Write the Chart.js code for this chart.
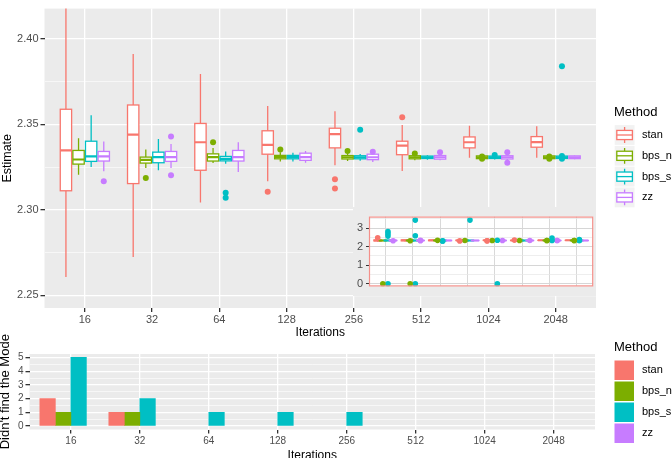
<!DOCTYPE html>
<html><head><meta charset="utf-8">
<script src="https://cdn.jsdelivr.net/npm/chart.js@4.4.0/dist/chart.umd.min.js"></script>
<style>
html,body{margin:0;padding:0;background:#fff;overflow:hidden;width:672px;height:458px;}
canvas{position:absolute;display:block;}
#top{left:0;top:0;}
#bottom{left:0;top:325px;}
#inset{left:353px;top:207px;background:#EBEBEB;}
</style></head><body>
<canvas id="top" width="672" height="345"></canvas>
<canvas id="bottom" width="672" height="140"></canvas>
<canvas id="inset" width="243" height="89"></canvas>
<script>
// ---------------- data ----------------
const iterations = ['16','32','64','128','256','512','1024','2048'];
const methods = ['stan','bps_n','bps_s','zz'];

// box stats per iteration: [lower whisker, Q1, median, Q3, upper whisker]
const stanBoxes = [
  [2.2608, 2.3112, 2.3348, 2.3589, 2.4300],
  [2.2724, 2.3154, 2.3440, 2.3614, 2.3913],
  [2.3044, 2.3232, 2.3396, 2.3506, 2.3795],
  [2.3168, 2.3326, 2.3380, 2.3463, 2.3608],
  [2.3262, 2.3363, 2.3443, 2.3478, 2.3577],
  [2.3227, 2.3323, 2.3376, 2.3402, 2.3497],
  [2.3305, 2.3363, 2.3396, 2.3427, 2.3492],
  [2.3305, 2.3367, 2.3397, 2.3429, 2.3489]
];
const bpsNBoxes = [
  [2.3206, 2.3268, 2.3295, 2.3348, 2.3420],
  [2.3245, 2.3274, 2.3293, 2.3309, 2.3353],
  [2.3274, 2.3286, 2.3309, 2.3328, 2.3363],
  [2.3284, 2.3299, 2.3309, 2.3319, 2.3338],
  [2.3286, 2.3298, 2.3308, 2.3318, 2.3330],
  [2.3290, 2.3299, 2.3308, 2.3317, 2.3326],
  [2.3294, 2.3300, 2.3308, 2.3316, 2.3320],
  [2.3295, 2.3300, 2.3308, 2.3316, 2.3320]
];
const bpsSBoxes = [
  [2.3251, 2.3284, 2.3313, 2.3402, 2.3554],
  [2.3232, 2.3276, 2.3309, 2.3338, 2.3415],
  [2.3270, 2.3287, 2.3299, 2.3313, 2.3342],
  [2.3284, 2.3299, 2.3309, 2.3319, 2.3334],
  [2.3288, 2.3299, 2.3308, 2.3317, 2.3327],
  [2.3294, 2.3301, 2.3308, 2.3315, 2.3320],
  [2.3295, 2.3301, 2.3308, 2.3315, 2.3320],
  [2.3295, 2.3301, 2.3308, 2.3315, 2.3320]
];
const zzBoxes = [
  [2.3226, 2.3286, 2.3313, 2.3342, 2.3400],
  [2.3245, 2.3284, 2.3309, 2.3342, 2.3386],
  [2.3222, 2.3286, 2.3309, 2.3348, 2.3396],
  [2.3276, 2.3290, 2.3309, 2.3332, 2.3344],
  [2.3280, 2.3294, 2.3308, 2.3326, 2.3338],
  [2.3290, 2.3297, 2.3308, 2.3318, 2.3324],
  [2.3292, 2.3298, 2.3308, 2.3317, 2.3322],
  [2.3296, 2.3300, 2.3308, 2.3316, 2.3318]
];

// outlying estimates: [iterations, estimate]
const stanOutliers = [['16',2.48],['128',2.3106],['256',2.3180],['256',2.3125],['512',2.3542]];
const bpsNOutliers = [['16',0],['32',0],['32',2.3187],['64',2.3396],['128',2.3353],['256',2.3344],
  ['512',2.3330],['1024',2.3300],['1024',2.3312],['2048',2.3300],['2048',2.3312]];
const bpsSOutliers = [['16',0],['16',2.57],['16',2.70],['16',2.81],['32',0],['32',2.59],['32',3.43],
  ['64',2.3100],['64',2.3071],['128',3.43],['256',0],['256',2.3469],['1024',2.3322],['1024',2.47],
  ['2048',2.3840],['2048',2.3300],['2048',2.3315]];
const zzOutliers = [['16',2.3168],['32',2.3430],['32',2.3203],['256',2.3340],['512',2.3338],
  ['1024',2.3338],['1024',2.3276]];

// number of runs that didn't find the mode
const stanMissed = [2,1,0,0,0,0,0,0];
const bpsNMissed = [1,1,0,0,0,0,0,0];
const bpsSMissed = [5,2,1,1,1,0,0,0];
const zzMissed   = [0,0,0,0,0,0,0,0];

const estimateTicks = [2.25, 2.275, 2.30, 2.325, 2.35, 2.375, 2.40];
const insetTicks = [0, 0.5, 1, 1.5, 2, 2.5, 3, 3.5];
const missedTicks = [0, 0.5, 1, 1.5, 2, 2.5, 3, 3.5, 4, 4.5, 5];

// ---------------- styling ----------------
const COLORS = ['#F8766D','#7CAE00','#00BFC4','#C77CFF'];
const BOX_DODGE = [-0.28125, -0.09375, 0.09375, 0.28125];
const BAR_DODGE = [-0.3375, -0.1125, 0.1125, 0.3375];
const FONT = '"Liberation Sans", Arial, Helvetica, sans-serif';
Chart.defaults.font.family = FONT;
Chart.defaults.color = '#4D4D4D';

const boxSets = [stanBoxes, bpsNBoxes, bpsSBoxes, zzBoxes];
const outlierSets = [stanOutliers, bpsNOutliers, bpsSOutliers, zzOutliers];
const missedSets = [stanMissed, bpsNMissed, bpsSMissed, zzMissed];

const near = (v, step) => Math.abs(v / step - Math.round(v / step)) < 1e-6;
const tickVal = c => (c && c.tick) ? c.tick.value : 0;
const catTicks = s => { s.ticks = iterations.map((_, i) => ({value: i + 1})); };

const panelBg = {
  id: 'panelBg',
  beforeDraw(chart, args, o) {
    const a = chart.chartArea, c = chart.ctx;
    c.save(); c.fillStyle = o.color;
    c.fillRect(a.left, a.top, a.right - a.left, a.bottom - a.top);
    c.restore();
  }
};

const boxPlot = {
  id: 'boxPlot',
  beforeDatasetsDraw(chart, args, o) {
    const {ctx, chartArea: a} = chart;
    const x = chart.scales.x, y = chart.scales.y;
    ctx.save();
    ctx.beginPath(); ctx.rect(a.left, a.top, a.right - a.left, a.bottom - a.top); ctx.clip();
    const hw = Math.abs(x.getPixelForValue(1 + o.width / 2) - x.getPixelForValue(1));
    boxSets.forEach((set, m) => {
      ctx.strokeStyle = COLORS[m];
      set.forEach((b, i) => {
        const cx = x.getPixelForValue(i + 1 + BOX_DODGE[m]);
        const [lo, q1, md, q3, hi] = b.map(v => y.getPixelForValue(v));
        ctx.lineWidth = o.line;
        ctx.beginPath();
        ctx.moveTo(cx, hi); ctx.lineTo(cx, q3);
        ctx.moveTo(cx, q1); ctx.lineTo(cx, lo);
        ctx.stroke();
        ctx.fillStyle = '#FFFFFF';
        ctx.fillRect(cx - hw, q3, 2 * hw, q1 - q3);
        ctx.strokeRect(cx - hw, q3, 2 * hw, q1 - q3);
        ctx.lineWidth = o.median;
        ctx.beginPath(); ctx.moveTo(cx - hw, md); ctx.lineTo(cx + hw, md); ctx.stroke();
      });
    });
    ctx.restore();
  }
};

const insetFrame = {
  id: 'insetFrame',
  afterDraw(chart, args, o) {
    const a = chart.chartArea, c = chart.ctx;
    c.save(); c.strokeStyle = o.color; c.lineWidth = 1.2;
    c.strokeRect(a.left + 0.5, a.top + 0.5, a.right - a.left - 1, a.bottom - a.top - 1);
    c.restore();
  }
};

const topLegend = {
  id: 'topLegend',
  afterDraw(chart) {
    const c = chart.ctx;
    c.save();
    c.textBaseline = 'middle'; c.textAlign = 'left';
    c.fillStyle = '#000'; c.font = '13px ' + FONT;
    c.fillText('Method', 614, 112);
    const size = 20.8, x0 = 614.2;
    methods.forEach((m, k) => {
      const cy = 135 + k * size;
      c.fillStyle = '#F2F2F2';
      c.fillRect(x0 + 0.5, cy - size / 2 + 0.5, size - 1, size - 1);
      c.strokeStyle = COLORS[k]; c.lineWidth = 1.3;
      const bx = x0 + size * 0.125, bw = size * 0.75, bt = cy - size * 0.22, bh = size * 0.44;
      c.beginPath();
      c.moveTo(x0 + size / 2, cy - size * 0.38); c.lineTo(x0 + size / 2, bt);
      c.moveTo(x0 + size / 2, bt + bh); c.lineTo(x0 + size / 2, cy + size * 0.38);
      c.stroke();
      c.fillStyle = '#FFFFFF'; c.fillRect(bx, bt, bw, bh); c.strokeRect(bx, bt, bw, bh);
      c.beginPath(); c.moveTo(bx, cy); c.lineTo(bx + bw, cy); c.stroke();
      c.fillStyle = '#000'; c.font = '11px ' + FONT;
      c.fillText(m, 642, cy);
    });
    c.restore();
  }
};

const bottomLegend = {
  id: 'bottomLegend',
  afterDraw(chart) {
    const c = chart.ctx;
    c.save();
    c.textBaseline = 'middle'; c.textAlign = 'left';
    c.fillStyle = '#000'; c.font = '13px ' + FONT;
    c.fillText('Method', 614, 22);
    methods.forEach((m, k) => {
      const top = 35.5 + k * 21;
      c.fillStyle = COLORS[k];
      c.fillRect(614.5, top, 19.5, 19.5);
      c.fillStyle = '#000'; c.font = '11px ' + FONT;
      c.fillText(m, 642, top + 9.75);
    });
    c.restore();
  }
};

const outlierDatasets = (r) => methods.map((m, k) => ({
  label: m,
  data: outlierSets[k].map(([it, v]) => ({x: iterations.indexOf(it) + 1 + BOX_DODGE[k], y: v})),
  backgroundColor: COLORS[k], borderWidth: 0, pointRadius: r, pointHoverRadius: r
}));

const common = {responsive: false, animation: false, events: [], devicePixelRatio: 1};

// ---------------- main boxplot ----------------
new Chart(document.getElementById('top'), {
  type: 'scatter',
  data: {datasets: outlierDatasets(3)},
  options: Object.assign({}, common, {
    layout: {padding: {top: 5, right: 76, left: 0, bottom: 0}},
    plugins: {legend: {display: false}, tooltip: {enabled: false},
      panelBg: {color: '#EBEBEB'}, boxPlot: {width: 0.16875, line: 1.3, median: 2.2}},
    scales: {
      x: {type: 'linear', min: 0.4, max: 8.6, bounds: 'data', offset: false,
        afterBuildTicks: catTicks, afterFit: s => { s.height = 37; },
        ticks: {callback: v => iterations[Math.round(v) - 1], autoSkip: false, maxRotation: 0,
          font: {size: 11}, color: '#4D4D4D', padding: 1.5},
        grid: {color: '#FFFFFF', lineWidth: 1.3, tickColor: '#333333', tickLength: 4, offset: false},
        border: {display: false},
        title: {display: true, text: 'Iterations', color: '#000', font: {size: 12}, padding: {top: 0, bottom: 4.8}}},
      y: {type: 'linear', min: 2.2426, max: 2.4178, bounds: 'data',
        afterBuildTicks: s => { s.ticks = estimateTicks.map(v => ({value: v})); },
        afterFit: s => { s.width = 44.5; },
        ticks: {callback: v => near(v, 0.05) ? v.toFixed(2) : '', font: {size: 11}, color: '#4D4D4D', padding: 2, autoSkip: false},
        grid: {color: '#FFFFFF', lineWidth: c => near(tickVal(c), 0.05) ? 1.3 : 0.6,
          tickColor: c => near(tickVal(c), 0.05) ? '#333333' : 'rgba(0,0,0,0)', tickLength: 4},
        border: {display: false},
        title: {display: true, text: 'Estimate', color: '#000', font: {size: 12.5}, padding: {top: 0, bottom: 0}}}
    }
  }),
  plugins: [panelBg, boxPlot, topLegend]
});

// ---------------- inset (full range) ----------------
new Chart(document.getElementById('inset'), {
  type: 'scatter',
  data: {datasets: outlierDatasets(2.8)},
  options: Object.assign({}, common, {
    layout: {padding: {top: 1, right: 1, left: 0, bottom: 0}},
    plugins: {legend: {display: false}, tooltip: {enabled: false},
      panelBg: {color: '#FFFFFF'}, boxPlot: {width: 0.28, line: 1.3, median: 2},
      insetFrame: {color: '#F4908A'}},
    scales: {
      x: {type: 'linear', min: 0.4, max: 8.6, bounds: 'data', offset: false,
        afterBuildTicks: catTicks, afterFit: s => { s.height = 9; },
        ticks: {display: false},
        grid: {color: '#D9D9D9', lineWidth: 1, drawTicks: false, offset: false},
        border: {display: false}},
      y: {type: 'linear', min: -0.143, max: 3.62, bounds: 'data',
        afterBuildTicks: s => { s.ticks = insetTicks.map(v => ({value: v})); },
        afterFit: s => { s.width = 16; },
        ticks: {callback: v => near(v, 1) ? String(Math.round(v)) : '', font: {size: 11}, color: '#4D4D4D', padding: 3, autoSkip: false},
        grid: {color: c => near(tickVal(c), 1) ? '#D6D6D6' : '#E6E6E6', lineWidth: c => near(tickVal(c), 1) ? 1 : 0.7,
          tickColor: c => near(tickVal(c), 1) ? '#333333' : 'rgba(0,0,0,0)', tickLength: 3},
        border: {display: false}}
    }
  }),
  plugins: [panelBg, boxPlot, insetFrame]
});

// ---------------- failures bar chart ----------------
new Chart(document.getElementById('bottom'), {
  type: 'bar',
  data: {datasets: methods.map((m, k) => ({
    label: m,
    data: missedSets[k].map((v, i) => ({x: i + 1 + BAR_DODGE[k], y: v})),
    backgroundColor: c => (c.raw && c.raw.y > 0) ? COLORS[k] : 'rgba(0,0,0,0)',
    borderWidth: 0, grouped: false, barPercentage: 1, categoryPercentage: 1
  }))},
  options: Object.assign({}, common, {
    layout: {padding: {top: 29, right: 77, left: 0, bottom: 0}},
    plugins: {legend: {display: false}, tooltip: {enabled: false}, panelBg: {color: '#EBEBEB'}},
    scales: {
      x: {type: 'linear', min: 0.4, max: 8.6, bounds: 'data', offset: false,
        afterBuildTicks: catTicks, afterFit: s => { s.height = 35.5; },
        ticks: {callback: v => iterations[Math.round(v) - 1], autoSkip: false, maxRotation: 0,
          font: {size: 10}, color: '#4D4D4D', padding: 1.5},
        grid: {color: '#FFFFFF', lineWidth: 1.3, tickColor: '#333333', tickLength: 4, offset: false},
        border: {display: false},
        title: {display: true, text: 'Iterations', color: '#000', font: {size: 12}, padding: {top: 0, bottom: 2.3}}},
      y: {type: 'linear', min: -0.25, max: 5.25, bounds: 'data',
        afterBuildTicks: s => { s.ticks = missedTicks.map(v => ({value: v})); },
        afterFit: s => { s.width = 29.5; },
        ticks: {callback: v => near(v, 1) ? String(Math.round(v)) : '', font: {size: 10}, color: '#4D4D4D', padding: 2, autoSkip: false},
        grid: {color: '#FFFFFF', lineWidth: c => near(tickVal(c), 1) ? 1.3 : 0.6,
          tickColor: c => near(tickVal(c), 1) ? '#333333' : 'rgba(0,0,0,0)', tickLength: 4},
        border: {display: false},
        title: {display: true, text: "Didn't find the Mode", color: '#000', font: {size: 13}, padding: {top: -2.5, bottom: 0}}}
    }
  }),
  plugins: [panelBg, bottomLegend]
});
</script>
</body></html>
